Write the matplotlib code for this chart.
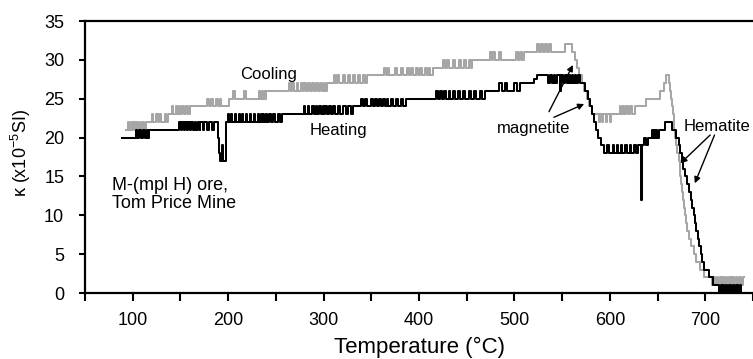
import matplotlib
matplotlib.use("Agg")
import matplotlib.pyplot as plt

plt.rcParams['font.family'] = ['Liberation Sans', 'DejaVu Sans']
plt.rcParams['mathtext.fontset'] = 'custom'
plt.rcParams['mathtext.rm'] = 'Liberation Sans'
plt.rcParams['mathtext.it'] = 'Liberation Sans:italic'

# Heating curve (black), step data: temperature (°C), kappa (x1e-5 SI)
heat_T = [89, 103, 105, 107, 109, 111, 113, 115, 116, 117,
          149, 151, 152, 154, 155, 157, 158, 160, 161, 163, 165, 166, 168, 170, 171, 174, 175, 178, 180, 183, 185,
          189, 190, 191, 194, 195, 198,
          200, 201, 203, 204, 207, 208, 211, 212, 215, 216, 219, 220, 223, 224, 227, 228, 231, 232, 234, 235,
          237, 238, 240, 241, 243, 245, 247, 249, 252, 254, 256,
          280, 281, 284, 285, 288, 290, 292, 293, 295, 297, 299, 300, 302, 304, 306, 308, 310, 312, 315, 317,
          320, 323, 326, 329, 331,
          339, 341, 343, 345, 350, 352, 354, 356, 358, 360, 362, 364, 366, 368, 371, 373, 376, 378, 381, 383, 386,
          418, 420, 422, 424, 426, 428, 431, 433, 436, 438, 441, 443, 446, 448, 452, 454, 458, 460, 464, 466, 469,
          484, 487, 490, 492, 500, 503, 506,
          520, 524, 535, 537, 539, 541, 543, 545, 548, 549, 551, 553, 555, 557, 558, 560, 561, 563, 565, 567, 569,
          572, 574, 577, 579, 581, 583, 585, 588, 591, 594,
          597, 599, 603, 604, 607, 609, 612, 613, 616, 618, 621, 622, 625, 627, 629, 633, 634,
          636, 638, 640, 644, 645, 646, 647, 648, 649, 651, 658, 665, 669, 672, 674, 676, 677, 679, 681, 683,
          685, 686, 688, 689, 690, 692, 693, 695, 697, 699, 704, 708,
          714, 716, 717, 719, 720, 722, 723, 725, 727, 729, 730, 732, 734, 736, 737, 741]
heat_k = [20, 21, 20, 21, 20, 21, 20, 21, 20, 21,
          22, 21, 22, 21, 22, 21, 22, 21, 22, 21, 22, 21, 22, 21, 22, 21, 22, 21, 22, 21, 22,
          20, 18, 17, 19, 17, 22,
          23, 22, 23, 22, 23, 22, 23, 22, 23, 22, 23, 22, 23, 22, 23, 22, 23, 22, 23, 22,
          23, 22, 23, 22, 23, 22, 23, 22, 23, 22, 23,
          24, 23, 24, 23, 24, 23, 24, 23, 24, 23, 24, 23, 24, 23, 24, 23, 24, 23, 24, 23,
          24, 23, 24, 23, 24,
          25, 24, 25, 24, 25, 24, 25, 24, 25, 24, 25, 24, 25, 24, 25, 24, 25, 24, 25, 24, 25,
          26, 25, 26, 25, 26, 25, 26, 25, 26, 25, 26, 25, 26, 25, 26, 25, 26, 25, 26, 25, 26,
          27, 26, 27, 26, 27, 26, 27,
          27.5, 28, 27, 28, 27, 28, 27, 28, 26, 28, 27, 28, 27, 28, 27, 28, 27, 28, 27, 28, 27,
          27, 26, 25, 24, 23, 22, 21, 20, 19, 18,
          19, 18, 19, 18, 19, 18, 19, 18, 19, 18, 19, 18, 19, 18, 19, 12, 19,
          20, 19, 20, 21, 20, 21, 20, 21, 20, 21, 22, 21, 20, 19, 18, 17, 16, 15, 14, 13,
          12, 11, 10, 9, 8, 7, 6, 5, 4, 3, 2, 1,
          0, 1, 0, 1, 0, 1, 0, 1, 0, 1, 0, 1, 0, 1, 0, 0]

# Cooling curve (grey)
cool_T = [93, 95, 96, 98, 99, 100, 102, 103, 105, 107, 108, 110, 112, 114,
          120, 121, 124, 126, 128, 130, 134, 135, 137,
          141, 142, 145, 146, 148, 150, 152, 154, 156, 158, 160,
          178, 180, 182, 184, 187, 189, 191, 193,
          201, 205, 207, 217, 219, 232, 233, 235, 236, 238, 239, 240,
          264, 266, 267, 269, 272, 273, 276, 278, 280, 282, 284, 286, 288, 290, 292, 294, 296, 298, 300, 302, 304,
          311, 312, 314, 316, 320, 322, 326, 328, 331, 333, 336, 338, 341, 343, 346,
          363, 365, 367, 369, 375, 377, 381, 383, 387, 389, 392, 394, 397, 399, 401, 403, 406, 408, 410, 412, 415,
          425, 427, 429, 431, 436, 438, 442, 444, 447, 449, 452, 454, 456,
          474, 476, 478, 480, 484, 486,
          502, 504, 506, 508, 510,
          524, 526, 528, 530, 532, 534, 536, 538, 553,
          560, 563, 566, 568, 571, 573, 576, 578, 581,
          589, 590, 592, 593, 596, 597, 600, 601,
          611, 612, 614, 615, 617, 619, 621, 623, 626, 638, 653, 657, 659,
          662, 663, 664, 665, 666, 667, 668, 669, 670, 672, 673, 674, 675, 676, 677, 678, 679, 680, 681, 683,
          685, 688, 690, 694, 699,
          707, 709, 710, 712, 713, 715, 717, 718, 720, 722, 723, 725, 727, 728, 730, 732, 733, 735, 737, 739, 741]
cool_k = [21, 22, 21, 22, 21, 22, 21, 22, 21, 22, 21, 22, 21, 22,
          23, 22, 23, 22, 23, 22, 23, 22, 23,
          24, 23, 24, 23, 24, 23, 24, 23, 24, 23, 24,
          25, 24, 25, 24, 25, 24, 25, 24,
          25, 26, 25, 26, 25, 26, 25, 26, 25, 26, 25, 26,
          27, 26, 27, 26, 27, 26, 27, 26, 27, 26, 27, 26, 27, 26, 27, 26, 27, 26, 27, 26, 27,
          28, 27, 28, 27, 28, 27, 28, 27, 28, 27, 28, 27, 28, 27, 28,
          29, 28, 29, 28, 29, 28, 29, 28, 29, 28, 29, 28, 29, 28, 29, 28, 29, 28, 29, 28, 29,
          30, 29, 30, 29, 30, 29, 30, 29, 30, 29, 30, 29, 30,
          31, 30, 31, 30, 31, 30,
          31, 30, 31, 30, 31,
          32, 31, 32, 31, 32, 31, 32, 31, 32,
          31, 30, 29, 28, 27, 26, 25, 24, 23,
          22, 23, 22, 23, 22, 23, 22, 23,
          24, 23, 24, 23, 24, 23, 24, 23, 24, 25, 26, 27, 28,
          27, 26, 25, 24, 23, 21, 20, 19, 18, 17, 16, 15, 14, 13, 12, 11, 10, 9, 8, 7,
          6, 5, 4, 3, 2,
          1, 2, 1, 2, 1, 2, 1, 2, 1, 2, 1, 2, 1, 2, 1, 2, 1, 2, 1, 2, 2]

x_major = [100, 200, 300, 400, 500, 600, 700]
x_minor = [50, 150, 250, 350, 450, 550, 650, 750]
y_ticks = [0, 5, 10, 15, 20, 25, 30, 35]

fig = plt.figure(figsize=(7.53, 3.59), dpi=100)
ax = fig.add_axes([85/753, 66/359, 668/753, 272/359])

ax.plot(cool_T, cool_k, drawstyle='steps-post', color='#a6a6a6', lw=1.45, zorder=2)
ax.plot(heat_T, heat_k, drawstyle='steps-post', color='black', lw=1.45, zorder=3)

ax.set_xlim(50, 741)
ax.set_ylim(0, 35)
ax.set_xticks(x_major)
ax.set_xticks(x_minor, minor=True)
ax.set_yticks(y_ticks)
ax.tick_params(axis='x', which='both', direction='out', length=6, width=1.5, pad=8, labelsize=13)
ax.tick_params(axis='y', direction='out', length=4, width=1.5, pad=11, labelsize=13)
for s in ['left', 'bottom', 'top']:
    ax.spines[s].set_linewidth(1.6)
ax.spines['right'].set_visible(False)

ax.set_xlabel('Temperature (°C)', fontsize=16, labelpad=5)
fig.text(21/753, 1 - 153/359, r'κ (x10$^{\mathrm{-5}}$SI)', rotation=90, ha='center', va='center', fontsize=13)

ax.text(212.4, 27.6, 'Cooling', fontsize=12, va='baseline')
ax.text(285.9, 20.3, 'Heating', fontsize=12, va='baseline')
ax.text(481.4, 20.6, 'magnetite', fontsize=12, va='baseline')
ax.text(677.5, 20.9, 'Hematite', fontsize=12, va='baseline', clip_on=False)
ax.text(77.9, 13.25, 'M-(mpl H) ore,', fontsize=13, va='baseline')
ax.text(77.9, 11.0, 'Tom Price Mine', fontsize=13, va='baseline')

ap = dict(arrowstyle='-|>', lw=1.0, color='black', mutation_scale=9, shrinkA=0, shrinkB=0)
ax.annotate('', xy=(561.3, 29.34), xytext=(536.2, 23.33), arrowprops=ap)
ax.annotate('', xy=(573.1, 24.32), xytext=(541.4, 22.61), arrowprops=ap)
ax.annotate('', xy=(674.1, 16.69), xytext=(705.1, 20.33), arrowprops=ap)
ax.annotate('', xy=(689.0, 14.12), xytext=(709.7, 20.33), arrowprops=ap)

fig.savefig('out.png', dpi=100)
